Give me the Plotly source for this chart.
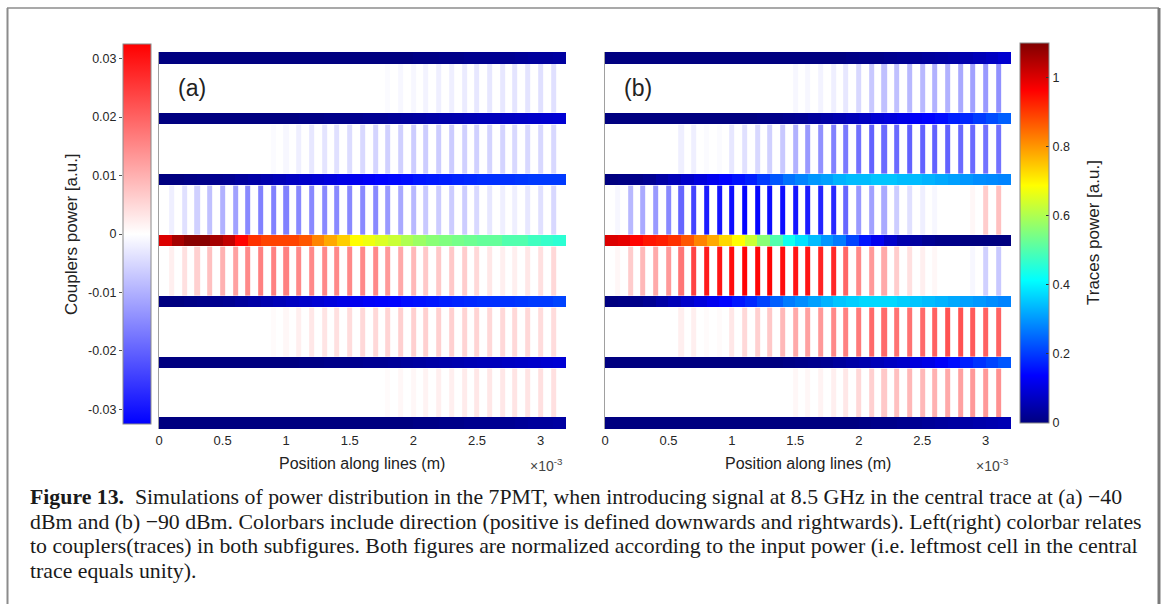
import plotly.graph_objects as go

W, H = 1165, 604

# ---------------- data ----------------
# Trace power per 0.1 mm cell along the line (32 cells), traces listed top to bottom.
A_T0 = [0, 0, 0, 0, 0, 0, 0, 0, 0, 0, 0, 0, 0, 0, 0, 0, 0, 0, 0, 0,
        0.005, 0.005, 0.01, 0.01, 0.015, 0.015, 0.02, 0.02, 0.025, 0.03, 0.03, 0.035]
A_T1 = [0, 0, 0, 0, 0, 0, 0, 0, 0, 0, 0, 0.005, 0.005, 0.01, 0.01, 0.015,
        0.02, 0.02, 0.025, 0.03, 0.035, 0.04, 0.045, 0.05, 0.055, 0.06, 0.065, 0.07, 0.075, 0.08, 0.085, 0.09]
A_T2 = [0, 0, 0.005, 0.01, 0.015, 0.02, 0.03, 0.04, 0.05, 0.06, 0.07, 0.08, 0.09, 0.10, 0.11, 0.12,
        0.13, 0.14, 0.145, 0.15, 0.16, 0.165, 0.17, 0.175, 0.18, 0.185, 0.19, 0.19, 0.195, 0.20, 0.20, 0.20]
A_T3 = [1.00, 1.06, 1.09, 1.09, 1.06, 1.03, 0.96, 0.91, 0.89, 0.89, 0.89, 0.87, 0.82, 0.78, 0.74, 0.69,
        0.67, 0.65, 0.63, 0.60, 0.58, 0.56, 0.55, 0.54, 0.53, 0.52, 0.52, 0.50, 0.50, 0.48, 0.47, 0.46]
A_T4 = [0, 0, 0.005, 0.01, 0.015, 0.02, 0.03, 0.04, 0.05, 0.06, 0.07, 0.08, 0.09, 0.10, 0.11, 0.12,
        0.13, 0.135, 0.14, 0.15, 0.155, 0.16, 0.17, 0.175, 0.18, 0.185, 0.19, 0.19, 0.195, 0.20, 0.20, 0.21]
A_T5 = [0, 0, 0, 0, 0, 0, 0, 0, 0, 0, 0, 0.005, 0.005, 0.01, 0.01, 0.015,
        0.02, 0.02, 0.025, 0.03, 0.035, 0.04, 0.045, 0.05, 0.055, 0.06, 0.065, 0.07, 0.075, 0.08, 0.085, 0.09]
A_T6 = [0, 0, 0, 0, 0, 0, 0, 0, 0, 0, 0, 0, 0, 0, 0, 0, 0, 0, 0, 0,
        0.005, 0.005, 0.01, 0.01, 0.015, 0.015, 0.02, 0.02, 0.025, 0.03, 0.03, 0.035]

B_T0 = [0, 0, 0, 0, 0, 0, 0, 0, 0, 0, 0, 0, 0, 0, 0, 0, 0, 0, 0,
        0.005, 0.01, 0.01, 0.015, 0.02, 0.025, 0.03, 0.035, 0.04, 0.05, 0.06, 0.07, 0.085]
B_T1 = [0, 0, 0, 0, 0, 0, 0, 0, 0, 0, 0, 0, 0.005, 0.01, 0.015, 0.02,
        0.03, 0.04, 0.05, 0.06, 0.07, 0.09, 0.10, 0.11, 0.13, 0.14, 0.15, 0.17, 0.18, 0.20, 0.22, 0.24]
B_T2 = [0.0, 0.005, 0.01, 0.02, 0.04, 0.06, 0.08, 0.10, 0.12, 0.14, 0.155, 0.17, 0.20, 0.23, 0.26, 0.28,
        0.30, 0.31, 0.33, 0.34, 0.34, 0.35, 0.35, 0.34, 0.34, 0.33, 0.32, 0.31, 0.30, 0.29, 0.285, 0.28]
B_T3 = [1.00, 0.99, 0.96, 0.94, 0.93, 0.91, 0.87, 0.82, 0.78, 0.73, 0.69, 0.63, 0.56, 0.50, 0.43, 0.38,
        0.34, 0.30, 0.27, 0.21, 0.16, 0.12, 0.08, 0.05, 0.035, 0.02, 0.01, 0.01, 0.0, 0.0, 0.0, 0.0]
B_T4 = [0.0, 0.005, 0.01, 0.02, 0.04, 0.06, 0.08, 0.10, 0.12, 0.14, 0.16, 0.18, 0.21, 0.24, 0.27, 0.29,
        0.31, 0.33, 0.35, 0.36, 0.37, 0.37, 0.37, 0.36, 0.35, 0.34, 0.33, 0.32, 0.31, 0.30, 0.29, 0.28]
B_T5 = [0, 0, 0, 0, 0, 0, 0, 0, 0, 0, 0, 0, 0, 0, 0.005, 0.01,
        0.015, 0.02, 0.03, 0.04, 0.05, 0.06, 0.07, 0.08, 0.10, 0.11, 0.13, 0.15, 0.17, 0.19, 0.21, 0.23]
B_T6 = [0, 0, 0, 0, 0, 0, 0, 0, 0, 0, 0, 0, 0, 0, 0, 0, 0, 0, 0, 0,
        0.005, 0.01, 0.01, 0.015, 0.02, 0.025, 0.03, 0.035, 0.04, 0.045, 0.05, 0.055]

# Coupler power at the 31 couplers (x = 0.1 ... 3.1 mm), gaps listed top to bottom.
A_C0 = [0, 0, 0, 0, 0, 0, 0, 0, 0, 0, 0, 0, 0, 0, 0, 0, 0,
        -0.0005, -0.001, -0.001, -0.0015, -0.002, -0.002, -0.0025, -0.003, -0.003, -0.003, -0.0035, -0.0035, -0.004, -0.004]
A_C1 = [0, 0, 0, 0, 0, 0, 0, 0, -0.0005, -0.001, -0.002, -0.003, -0.0035, -0.004, -0.0045, -0.005,
        -0.0055, -0.006, -0.006, -0.0065, -0.0065, -0.0065, -0.0065, -0.006, -0.006, -0.0055, -0.0055, -0.005, -0.005, -0.005, -0.005]
A_C2 = [-0.002, -0.004, -0.006, -0.008, -0.010, -0.012, -0.015, -0.016, -0.016, -0.016, -0.015, -0.015, -0.015, -0.015, -0.015, -0.015,
        -0.015, -0.013, -0.011, -0.009, -0.007, -0.0065, -0.0065, -0.0065, -0.005, -0.003, -0.002, -0.002, -0.003, -0.004, -0.005]
A_C3 = [0.002, 0.004, 0.006, 0.008, 0.010, 0.012, 0.015, 0.016, 0.016, 0.016, 0.015, 0.015, 0.015, 0.015, 0.015, 0.015,
        0.015, 0.013, 0.011, 0.009, 0.007, 0.007, 0.007, 0.0065, 0.005, 0.003, 0.002, 0.002, 0.003, 0.004, 0.005]
A_C4 = [0, 0, 0, 0, 0, 0, 0, 0, 0.0005, 0.001, 0.002, 0.003, 0.0035, 0.004, 0.0045, 0.005,
        0.005, 0.0055, 0.006, 0.006, 0.006, 0.006, 0.006, 0.0055, 0.0055, 0.005, 0.005, 0.005, 0.005, 0.0045, 0.0045]
A_C5 = [0, 0, 0, 0, 0, 0, 0, 0, 0, 0, 0, 0, 0, 0, 0, 0, 0,
        0.0005, 0.001, 0.001, 0.0015, 0.002, 0.002, 0.0025, 0.003, 0.003, 0.003, 0.0035, 0.0035, 0.004, 0.004]

B_C0 = [0, 0, 0, 0, 0, 0, 0, 0, 0, 0, 0, 0, 0, 0,
        -0.001, -0.001, -0.0015, -0.002, -0.003, -0.005, -0.007, -0.008, -0.008, -0.009, -0.009, -0.010, -0.010, -0.011, -0.012, -0.013, -0.014]
B_C1 = [0, 0, 0, 0, 0, -0.002, -0.002, -0.0005, -0.0005, -0.003, -0.004, -0.005, -0.006, -0.007, -0.010, -0.013,
        -0.014, -0.016, -0.017, -0.018, -0.020, -0.019, -0.019, -0.020, -0.020, -0.020, -0.020, -0.019, -0.019, -0.018, -0.018]
B_C2 = [-0.001, -0.009, -0.011, -0.013, -0.015, -0.0195, -0.024, -0.029, -0.030, -0.031, -0.032, -0.032, -0.031, -0.031, -0.030, -0.029,
        -0.028, -0.0275, -0.0195, -0.013, -0.012, -0.011, -0.0065, -0.004, -0.002, -0.001, 0.0, 0.0, 0.001, 0.0065, 0.008]
B_C3 = [0.001, 0.0065, 0.009, 0.011, 0.013, 0.0175, 0.024, 0.029, 0.030, 0.031, 0.032, 0.032, 0.032, 0.031, 0.030, 0.030,
        0.028, 0.0275, 0.0195, 0.015, 0.013, 0.011, 0.0065, 0.004, 0.002, 0.001, 0.0, 0.0, -0.001, -0.006, -0.007]
B_C4 = [0, 0, 0, 0, 0, 0.002, 0.002, 0.0005, 0.0005, 0.003, 0.005, 0.006, 0.007, 0.009, 0.011, 0.012,
        0.013, 0.015, 0.016, 0.017, 0.019, 0.019, 0.018, 0.018, 0.019, 0.020, 0.022, 0.022, 0.021, 0.020, 0.020]
B_C5 = [0, 0, 0, 0, 0, 0, 0, 0, 0, 0, 0, 0, 0, 0,
        0.001, 0.001, 0.0015, 0.002, 0.003, 0.005, 0.006, 0.007, 0.008, 0.009, 0.009, 0.010, 0.011, 0.012, 0.013, 0.013, 0.014]

TRACES = {"a": [A_T0, A_T1, A_T2, A_T3, A_T4, A_T5, A_T6],
          "b": [B_T0, B_T1, B_T2, B_T3, B_T4, B_T5, B_T6]}
COUPLERS = {"a": [A_C0, A_C1, A_C2, A_C3, A_C4, A_C5],
            "b": [B_C0, B_C1, B_C2, B_C3, B_C4, B_C5]}

CELL_LEN = 1e-4            # m, length of one trace cell
N_CELLS = 32
X_TICKS = [0, 0.5e-3, 1e-3, 1.5e-3, 2e-3, 2.5e-3, 3e-3]
X_TICKTEXT = ["0", "0.5", "1", "1.5", "2", "2.5", "3"]
CB_L_TICKS = [0.03, 0.02, 0.01, 0, -0.01, -0.02, -0.03]
CB_L_TEXT = ["0.03", "0.02", "0.01", "0", "-0.01", "-0.02", "-0.03"]
CB_R_TICKS = [0, 0.2, 0.4, 0.6, 0.8, 1]
CB_R_TEXT = ["0", "0.2", "0.4", "0.6", "0.8", "1"]

# ---------------- geometry helpers ----------------
TRACE_H = 0.19       # trace thickness, in units of the trace pitch
CPL_W = 0.4e-4       # coupler width along x (m)


def px(xp):
    return xp / W


def py(yp):
    return 1 - yp / H


# cell edges along x for traces
x_tr = [i * CELL_LEN for i in range(N_CELLS + 1)]
# stripe edges along x for couplers (stripe / empty alternating)
x_cp = []
for k in range(1, N_CELLS):
    x_cp += [k * CELL_LEN - CPL_W / 2, k * CELL_LEN + CPL_W / 2]
# row edges along y for traces (trace / gap alternating)
y_tr = []
for i in range(7):
    y_tr += [i - TRACE_H / 2, i + TRACE_H / 2]
# row edges along y for couplers (gap / trace alternating)
y_cp = []
for g in range(6):
    y_cp += [g + TRACE_H / 2, g + 1 - TRACE_H / 2]


def trace_z(rows):
    z = []
    for i, r in enumerate(rows):
        z.append(r)
        if i < len(rows) - 1:
            z.append([None] * len(r))
    return z


def coupler_z(rows):
    z = []
    for g, r in enumerate(rows):
        row = []
        for j, v in enumerate(r):
            row.append(v)
            if j < len(r) - 1:
                row.append(None)
        z.append(row)
        if g < len(rows) - 1:
            z.append([None] * len(row))
    return z


JET = [[0, "rgb(0,0,128)"], [0.125, "rgb(0,0,255)"], [0.375, "rgb(0,255,255)"],
       [0.625, "rgb(255,255,0)"], [0.875, "rgb(255,0,0)"], [1, "rgb(128,0,0)"]]
BWR = [[0, "rgb(0,0,255)"], [0.5, "rgb(255,255,255)"], [1, "rgb(255,0,0)"]]

fig = go.Figure()
for key, xa, ya in [("a", "x", "y"), ("b", "x2", "y2")]:
    fig.add_trace(go.Heatmap(x=x_cp, y=y_cp, z=coupler_z(COUPLERS[key]), coloraxis="coloraxis2",
                             xaxis=xa, yaxis=ya, hoverinfo="skip"))
    fig.add_trace(go.Heatmap(x=x_tr, y=y_tr, z=trace_z(TRACES[key]), coloraxis="coloraxis",
                             xaxis=xa, yaxis=ya, hoverinfo="skip"))

# anchor axis carrying the left colorbar's tick labels
fig.add_trace(go.Scatter(x=[0.5], y=[0], mode="markers", marker=dict(opacity=0),
                         xaxis="x3", yaxis="y3", hoverinfo="skip", showlegend=False))

FONT = "Liberation Sans, Arial, sans-serif"
TXT = "#222222"
y_rng = [6 + TRACE_H / 2, -TRACE_H / 2]
ydom = [py(429), py(52)]

xcommon = dict(range=[0, N_CELLS * CELL_LEN], tickvals=X_TICKS, ticktext=X_TICKTEXT, ticks="",
               showgrid=False, zeroline=False, showline=False,
               tickfont=dict(family=FONT, size=13, color="#262626"), ticklabelstandoff=2)
ycommon = dict(range=y_rng, domain=ydom, showticklabels=False, ticks="", showgrid=False,
               zeroline=False, showline=True, linecolor="#a0a0a0", linewidth=1)

fig.update_layout(
    width=W, height=H, margin=dict(l=0, r=0, t=0, b=0, autoexpand=False),
    paper_bgcolor="white", plot_bgcolor="white", showlegend=False,
    xaxis=dict(domain=[px(159), px(566)], anchor="y", **xcommon),
    yaxis=dict(anchor="x", **ycommon),
    xaxis2=dict(domain=[px(605), px(1011)], anchor="y2", **xcommon),
    yaxis2=dict(anchor="x2", **ycommon),
    xaxis3=dict(domain=[px(123), px(151)], anchor="y3", range=[0, 1], visible=False),
    yaxis3=dict(domain=[py(424), py(44)], anchor="x3", range=[-0.0325, 0.0325], side="left",
                tickvals=CB_L_TICKS, ticktext=CB_L_TEXT, ticks="outside", ticklen=3,
                tickcolor="#555", showgrid=False, zeroline=False, showline=False,
                tickfont=dict(family=FONT, size=12.5, color="#262626")),
    coloraxis=dict(cmin=0, cmax=1.1, colorscale=JET,
                   colorbar=dict(x=px(1020), xanchor="left", xpad=0, ypad=0,
                                 y=py(233), yanchor="middle", len=380, lenmode="pixels",
                                 thickness=29, thicknessmode="pixels", outlinewidth=1,
                                 outlinecolor="#8a8a8a", ticks="inside", ticklen=3,
                                 tickcolor="#333", tickvals=CB_R_TICKS, ticktext=CB_R_TEXT,
                                 tickfont=dict(family=FONT, size=12.5, color="#262626"))),
    coloraxis2=dict(cmin=-0.0325, cmax=0.0325, colorscale=BWR,
                    colorbar=dict(x=px(123), xanchor="left", xpad=0, ypad=0,
                                  y=py(234), yanchor="middle", len=380, lenmode="pixels",
                                  thickness=28, thicknessmode="pixels", outlinewidth=1,
                                  outlinecolor="#8a8a8a", ticks="", showticklabels=False)),
)

ann = []


def add_text(text, xp, yp, size, xanchor="center", yanchor="middle", angle=0, family=FONT, color=TXT):
    ann.append(dict(text=text, x=px(xp), y=py(yp), xref="paper", yref="paper", showarrow=False,
                    xanchor=xanchor, yanchor=yanchor, textangle=angle,
                    font=dict(family=family, size=size, color=color)))


add_text("(a)", 176, 88, 23, xanchor="left")
add_text("(b)", 622, 88, 23, xanchor="left")
add_text("Position along lines (m)", 362, 463, 16)
add_text("Position along lines (m)", 808, 463, 16)
add_text("×10<sup>-3</sup>", 546, 465, 14, color="#444444")
add_text("×10<sup>-3</sup>", 992, 465, 14, color="#444444")
add_text("Couplers power [a.u.]", 71, 234, 17, angle=-90)
add_text("Traces power [a.u.]", 1093, 233, 17, angle=-90)

SERIF = "Liberation Serif, Times New Roman, serif"
caption = [
    "<b>Figure 13.</b>\u00a0 Simulations of power distribution in the 7PMT, when introducing signal at 8.5 GHz in the central trace at (a) \u221240",
    "dBm and (b) \u221290 dBm. Colorbars include direction (positive is defined downwards and rightwards). Left(right) colorbar relates",
    "to couplers(traces) in both subfigures. Both figures are normalized according to the input power (i.e. leftmost cell in the central",
    "trace equals unity).",
]
for n, line in enumerate(caption):
    add_text(line, 28, 497 + 24.5 * n, 21.8, xanchor="left", family=SERIF, color="#1a1a1a")

fig.update_layout(annotations=ann)

# frame around the figure block
fig.update_layout(shapes=[
    dict(type="line", xref="paper", yref="paper", x0=px(7), x1=px(1159), y0=py(8), y1=py(8),
         line=dict(color="#8c8c8c", width=1.5)),
    dict(type="line", xref="paper", yref="paper", x0=px(7.5), x1=px(7.5), y0=py(8), y1=0,
         line=dict(color="#8c8c8c", width=2)),
    dict(type="line", xref="paper", yref="paper", x0=px(1159), x1=px(1159), y0=py(8), y1=0,
         line=dict(color="#7a7a7a", width=3)),
])

fig.write_html("out.html")
